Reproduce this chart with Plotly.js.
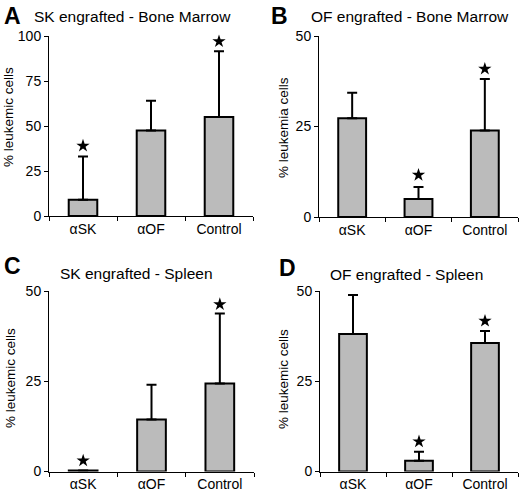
<!DOCTYPE html>
<html><head><meta charset="utf-8">
<script src="https://cdn.plot.ly/plotly-3.0.1.min.js"></script>
<style>html,body{margin:0;padding:0;background:#fff}#chart{width:520px;height:493px}</style>
</head><body><div id="chart"></div>
<script>
var categories = ["\u03B1SK", "\u03B1OF", "Control"];

var valuesA = [9, 47.5, 55];
var errorsA = [24, 16.5, 36.5];
var starsA  = [39, null, 97];

var valuesB = [27.3, 5, 23.9];
var errorsB = [7, 3.3, 14.2];
var starsB  = [null, 11.6, 40.9];

var valuesC = [0.3, 14.4, 24.4];
var errorsC = [0, 9.6, 19.4];
var starsC  = [3, null, 46.3];

var valuesD = [38.1, 3, 35.6];
var errorsD = [10.8, 2.5, 3.3];
var starsD  = [null, 8.3, 41.7];

var panelLetters = ["A", "B", "C", "D"];
var panelTitles = ["SK engrafted - Bone Marrow", "OF engrafted - Bone Marrow", "SK engrafted - Spleen", "OF engrafted - Spleen"];
var yTitles = ["% leukemic cells", "% leukemia cells", "% leukemic cells", "% leukemic cells"];
var yMax = [100, 50, 50, 50];
var yTicks = [[0, 25, 50, 75, 100], [0, 25, 50], [0, 25, 50], [0, 25, 50]];

var W = 520, H = 493;
function px(x){ return x / W; }
function py(y){ return (H - y) / H; }

var panels = [
  {v: valuesA, e: errorsA, s: starsA, xd: [49, 253], yd: [36, 216], xa: 'x',  ya: 'y'},
  {v: valuesB, e: errorsB, s: starsB, xd: [319, 518], yd: [36, 217], xa: 'x2', ya: 'y2'},
  {v: valuesC, e: errorsC, s: starsC, xd: [49, 254], yd: [291, 471.5], xa: 'x3', ya: 'y3'},
  {v: valuesD, e: errorsD, s: starsD, xd: [320, 518], yd: [291, 471.5], xa: 'x4', ya: 'y4'}
];

var font = "Liberation Sans, Arial, sans-serif";
var traces = [];
var layout = {
  width: W, height: H,
  margin: {l: 0, r: 0, t: 0, b: 0},
  paper_bgcolor: '#fff', plot_bgcolor: '#fff',
  showlegend: false,
  bargap: 0.58,
  font: {family: font, size: 14, color: '#000'},
  annotations: []
};

panels.forEach(function(p, i){
  traces.push({
    type: 'bar', x: categories, y: p.v, xaxis: p.xa, yaxis: p.ya,
    marker: {color: '#bbbbbb', line: {color: '#000', width: 2}},
    error_y: {type: 'data', symmetric: false, array: p.e, arrayminus: [0,0,0], color: '#000', thickness: 2, width: 5},
    hoverinfo: 'none'
  });
  traces.push({
    type: 'scatter', mode: 'markers', x: categories, y: p.s, xaxis: p.xa, yaxis: p.ya,
    marker: {symbol: 'star', size: 10, color: '#000'}, hoverinfo: 'none', cliponaxis: false
  });
  var sfx = i === 0 ? '' : String(i + 1);
  layout['xaxis' + sfx] = {
    domain: [px(p.xd[0]), px(p.xd[1])], anchor: 'y' + sfx,
    showline: true, linecolor: '#000', linewidth: 1, showgrid: false, zeroline: false,
    ticks: 'outside', tickson: 'boundaries', ticklen: 4, tickcolor: '#000',
    tickfont: {family: font, size: 14, color: '#000'}, fixedrange: true
  };
  layout['yaxis' + sfx] = {
    domain: [py(p.yd[1]), py(p.yd[0])], anchor: 'x' + sfx,
    range: [0, yMax[i]], tickvals: yTicks[i],
    showline: true, linecolor: '#000', linewidth: 1, showgrid: false, zeroline: false,
    ticks: 'outside', ticklen: 4, tickcolor: '#000',
    tickfont: {family: font, size: 14, color: '#000'}, fixedrange: true
  };
});

var letterPos = [[2, 16], [269, 16], [2, 266], [277, 268]];
var titlePos = [[32, 16], [309, 16], [58, 273], [328, 274]];
var yTitlePos = [[8, 117], [283, 128], [10, 378], [283, 379]];

for (var i = 0; i < 4; i++) {
  layout.annotations.push({
    text: panelLetters[i], xref: 'paper', yref: 'paper',
    x: px(letterPos[i][0]), y: py(letterPos[i][1]), xanchor: 'left', yanchor: 'middle',
    showarrow: false, font: {family: font, size: 23, color: '#000', weight: 'bold'}
  });
  layout.annotations.push({
    text: panelTitles[i], xref: 'paper', yref: 'paper',
    x: px(titlePos[i][0]), y: py(titlePos[i][1]), xanchor: 'left', yanchor: 'middle',
    showarrow: false, font: {family: font, size: 15.5, color: '#000'}
  });
  layout.annotations.push({
    text: yTitles[i], xref: 'paper', yref: 'paper', textangle: -90,
    x: px(yTitlePos[i][0]), y: py(yTitlePos[i][1]), xanchor: 'center', yanchor: 'middle',
    showarrow: false, font: {family: font, size: 13.5, color: '#000'}
  });
}

Plotly.newPlot('chart', traces, layout, {displayModeBar: false, staticPlot: true});
</script>
</body></html>
